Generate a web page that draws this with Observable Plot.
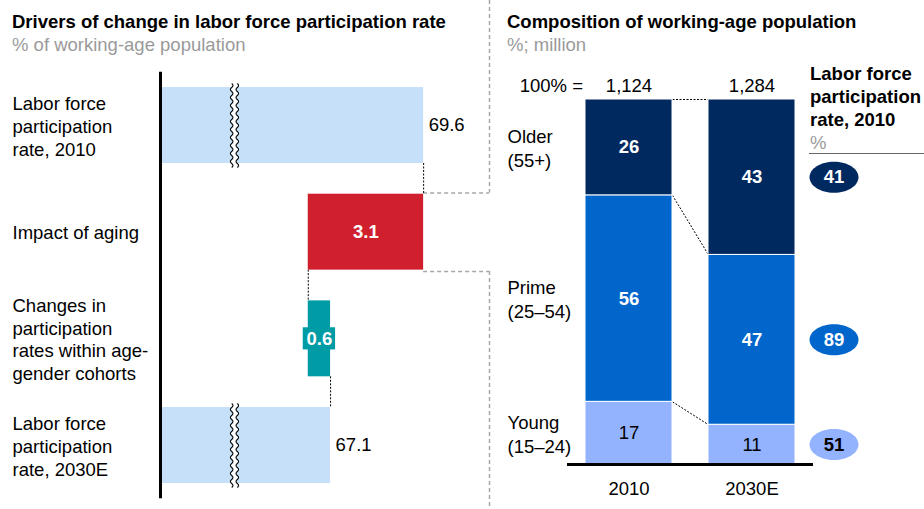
<!DOCTYPE html>
<html><head><meta charset="utf-8">
<script src="https://cdn.jsdelivr.net/npm/d3@7"></script>
<script src="https://cdn.jsdelivr.net/npm/@observablehq/plot@0.6"></script>
<style>
body{margin:0;background:#fff;font-family:"Liberation Sans",Arial,sans-serif;}
#wrap{position:relative;width:924px;height:509px;overflow:hidden;background:#fff;}
#left,#right{position:absolute;top:0;}
#left{left:0;} #right{left:490px;}
.t{position:absolute;white-space:nowrap;font-size:18.5px;line-height:23px;}
.b{font-weight:bold;color:#000;}
.g{color:#9a9a9a;}
</style></head><body>
<div id="wrap">
  <div id="left"></div>
  <div id="right"></div>
  <div class="t b" style="left:12px;top:10px;">Drivers of change in labor force participation rate</div>
  <div class="t g" style="left:12px;top:33px;">% of working-age population</div>
  <div class="t b" style="left:507px;top:10px;">Composition of working-age population</div>
  <div class="t g" style="left:507px;top:33px;">%; million</div>
  <div class="t b" style="left:810px;top:62px;">Labor force<br>participation<br>rate, 2010</div>
  <div class="t g" style="left:810px;top:131px;">%</div>
  <div style="position:absolute;left:809px;top:153px;width:115px;height:0;border-top:1.5px solid #666;"></div>
</div>
<script>
// ---------- data: left panel (waterfall) ----------
const driverLabels = [
  "Labor force\nparticipation\nrate, 2010",
  "Impact of aging",
  "Changes in\nparticipation\nrates within age-\ngender cohorts",
  "Labor force\nparticipation\nrate, 2030E"
];
const driverValues = [69.6, -3.1, 0.6, 67.1];
const driverKinds = ["total", "delta", "delta", "total"];

// ---------- data: right panel (composition) ----------
const years = ["2010", "2030E"];
const populationTotals = ["1,124", "1,284"];
const ageGroups = ["Young", "Prime", "Older"]; // bottom to top
const ageGroupLabels = ["Young\n(15–24)", "Prime\n(25–54)", "Older\n(55+)"];
const share2010 = [17, 56, 26];
const share2030 = [11, 47, 43];
const participation2010 = [51, 89, 41];

// ---------- styles ----------
const FONT = "Liberation Sans, Arial, sans-serif";
const FS = 18.5;
const totalColor = "#C6E0FA", agingColor = "#D0202E", cohortColor = "#009CA6";
const groupColors = ["#94B3FF", "#0066CC", "#002960"];
const groupTextColors = ["#000", "#fff", "#fff"];

// ---------- left panel ----------
const xMin = 62.53, xMax = 71.37;       // broken axis: left edge and right frame edge
const yTop = -1.172, yBot = 3.6;        // frame extent in row units
const half = 0.356;                      // half bar height in row units

let level = 0;
const rows = driverValues.map((v, i) => {
  const before = level;
  let x1, x2;
  if (driverKinds[i] === "total") { level = v; x1 = xMin; x2 = v; }
  else { level = before + v; x1 = Math.min(before, level); x2 = Math.max(before, level); }
  return {i, label: driverLabels[i], value: v, kind: driverKinds[i], before, after: level, x1, x2,
          color: driverKinds[i] === "total" ? totalColor : (v < 0 ? agingColor : cohortColor)};
});
const totals = rows.filter(d => d.kind === "total");
const deltas = rows.filter(d => d.kind === "delta");
const connectors = rows.slice(1).map(d => ({x: rows[d.i - 1].after, y1: d.i - 1 + half, y2: d.i - half}));
const aging = deltas[0], cohort = deltas[1];

function wave(ctx, h, x0, a, down) {
  const n = Math.round(2 * h / 4);
  const s = 2 * h / n;
  if (down) {
    ctx.moveTo(x0, -h);
    for (let k = 0; k < n; k++) {
      const y0 = -h + k * s;
      ctx.quadraticCurveTo(x0 + (k % 2 ? -a : a), y0 + s / 2, x0, y0 + s);
    }
  } else {
    for (let k = n - 1; k >= 0; k--) {
      const y0 = -h + k * s;
      ctx.quadraticCurveTo(x0 + (k % 2 ? -a : a), y0 + s / 2, x0, y0);
    }
  }
}
const breakFill = {draw(ctx, size) {
  const h = Math.sqrt(size / Math.PI);
  wave(ctx, h, -2.8, 2.6, true);
  ctx.lineTo(2.8, h);
  wave(ctx, h, 2.8, 2.6, false);
  ctx.closePath();
}};
const breakLines = {draw(ctx, size) {
  const h = Math.sqrt(size / Math.PI);
  wave(ctx, h, -2.8, 2.6, true);
  wave(ctx, h, 2.8, 2.6, true);
}};

const left = Plot.plot({
  width: 490, height: 509,
  marginLeft: 0, marginRight: 0, marginTop: 0, marginBottom: 0,
  style: {fontFamily: FONT, fontSize: FS + "px", background: "transparent", overflow: "visible"},
  x: {domain: [xMin, xMax], range: [160, 489], axis: null},
  y: {domain: [yTop, yBot], range: [0, 509], axis: null},
  color: {type: "identity"},
  marks: [
    // gray callout around the aging bar
    Plot.ruleX([aging], {x: xMax, y1: yTop, y2: d => d.i - half - 0.012, stroke: "#a8a8a8", strokeWidth: 1.5, strokeDasharray: "4,3"}),
    Plot.ruleX([aging], {x: xMax, y1: d => d.i + half + 0.012, y2: yBot, stroke: "#a8a8a8", strokeWidth: 1.5, strokeDasharray: "4,3"}),
    Plot.ruleY([aging], {y: d => d.i - half - 0.012, x1: "x2", x2: xMax, stroke: "#a8a8a8", strokeWidth: 1.5, strokeDasharray: "4,3"}),
    Plot.ruleY([aging], {y: d => d.i + half + 0.012, x1: "x2", x2: xMax, stroke: "#a8a8a8", strokeWidth: 1.5, strokeDasharray: "4,3"}),
    // black dotted connectors
    Plot.ruleX(connectors, {x: "x", y1: "y1", y2: "y2", stroke: "#000", strokeWidth: 1, strokeDasharray: "2,1.5"}),
    // bars
    Plot.rect(rows, {x1: "x1", x2: "x2", y1: d => d.i - half, y2: d => d.i + half, fill: "color"}),
    // axis break marks on total bars
    Plot.dot(totals, {x: xMin, dx: 74, y: "i", r: 42, symbol: breakFill, fill: "#fff", stroke: "none"}),
    Plot.dot(totals, {x: xMin, dx: 74, y: "i", r: 42, symbol: breakLines, fill: "none", stroke: "#000", strokeWidth: 1.1}),
    // label box for the narrow bar
    Plot.rect([cohort], {x1: "x1", x2: "x2", y1: d => d.i - 0.104, y2: d => d.i + 0.104, insetLeft: -5, insetRight: -5, fill: "color"}),
    // value labels
    Plot.text(totals, {x: "x2", y: "i", text: d => d.value.toFixed(1), dx: 5, textAnchor: "start", fontSize: FS, fill: "#000"}),
    Plot.text(deltas, {x: d => (d.x1 + d.x2) / 2, y: "i", text: d => Math.abs(d.value).toFixed(1), fontSize: FS, fontWeight: "bold", fill: "#fff"}),
    // category labels
    Plot.text(rows, {frameAnchor: "left", dx: 12, y: "i", text: "label", textAnchor: "start", lineHeight: 1.23, fontSize: FS, fill: "#000"}),
    // vertical axis line
    Plot.ruleX([xMin], {y1: -0.5, y2: 3.5, stroke: "#000", strokeWidth: 3})
  ]
});
document.getElementById("left").appendChild(left);

// ---------- right panel ----------
const shares = [share2010, share2030];
const segments = [];
const boundaries = years.map(() => [0]);
years.forEach((yr, j) => {
  const tot = d3.sum(shares[j]);
  let c = 0;
  ageGroups.forEach((g, k) => {
    const v = shares[j][k];
    segments.push({j, year: yr, k, group: g, value: v, y1: c / tot, y2: (c + v) / tot});
    c += v;
    boundaries[j].push(c / tot);
  });
});
const bw = 0.3537; // half bar width in year units
const links = [1, 2, 3].map(b => ({x1: 0 + bw, x2: 1 - bw, y1: boundaries[0][b], y2: boundaries[1][b]}));
const seg2030 = segments.filter(d => d.j === 1);
const seg2010 = segments.filter(d => d.j === 0);
const lightSegs = segments.filter(d => d.k === 0);
const darkSegs = segments.filter(d => d.k !== 0);

const ellipse = {draw(ctx, size) {
  const r = Math.sqrt(size / Math.PI), rx = r * 1.58, ry = r, k = 0.5523;
  ctx.moveTo(rx, 0);
  ctx.bezierCurveTo(rx, ry * k, rx * k, ry, 0, ry);
  ctx.bezierCurveTo(-rx * k, ry, -rx, ry * k, -rx, 0);
  ctx.bezierCurveTo(-rx, -ry * k, -rx * k, -ry, 0, -ry);
  ctx.bezierCurveTo(rx * k, -ry, rx, -ry * k, rx, 0);
  ctx.closePath();
}};

const right = Plot.plot({
  width: 434, height: 509,
  marginLeft: 0, marginRight: 0, marginTop: 0, marginBottom: 0,
  style: {fontFamily: FONT, fontSize: FS + "px", background: "transparent", overflow: "visible"},
  x: {domain: [-0.5, 1.5], range: [77, 323], axis: null},
  y: {domain: [0, 1], range: [464, 99], axis: null},
  color: {type: "identity"},
  marks: [
    Plot.link(links, {x1: "x1", x2: "x2", y1: "y1", y2: "y2", stroke: "#000", strokeWidth: 1, strokeDasharray: "2,1.5"}),
    Plot.rect(segments, {x1: d => d.j - bw, x2: d => d.j + bw, y1: "y1", y2: "y2", fill: d => groupColors[d.k], stroke: "#fff", strokeWidth: 1}),
    Plot.text(lightSegs, {x: "j", y: d => (d.y1 + d.y2) / 2, text: d => String(d.value), fontSize: FS, fill: "#000"}),
    Plot.text(darkSegs, {x: "j", y: d => (d.y1 + d.y2) / 2, text: d => String(d.value), fontSize: FS, fontWeight: "bold", fill: "#fff"}),
    Plot.ruleY([0], {x1: -0.5, x2: 1.5, stroke: "#000", strokeWidth: 3}),
    Plot.text(years, {x: (d, i) => i, y: 0, dy: 25, text: d => d, fontSize: FS, fill: "#000"}),
    Plot.text(populationTotals, {x: (d, i) => i, y: 1, dy: -13, text: d => d, fontSize: FS, fill: "#000"}),
    Plot.text(["100% ="], {x: 0, y: 1, dx: -46, dy: -13, text: d => d, textAnchor: "end", fontSize: FS, fill: "#000"}),
    Plot.text(seg2010, {frameAnchor: "left", dx: 17, y: d => (d.y1 + d.y2) / 2, text: d => ageGroupLabels[d.k],
      textAnchor: "start", lineHeight: 1.3, fontSize: FS, fill: "#000"}),
    Plot.dot(seg2030, {x: 1, dx: 82, y: d => (d.y1 + d.y2) / 2, r: 15.5, symbol: ellipse, fill: d => groupColors[d.k], stroke: "none"}),
    Plot.text(seg2030, {x: 1, dx: 82, y: d => (d.y1 + d.y2) / 2, text: d => String(participation2010[d.k]), fontSize: FS,
      fontWeight: "bold", fill: d => groupTextColors[d.k]})
  ]
});
document.getElementById("right").appendChild(right);
</script>
</body></html>
